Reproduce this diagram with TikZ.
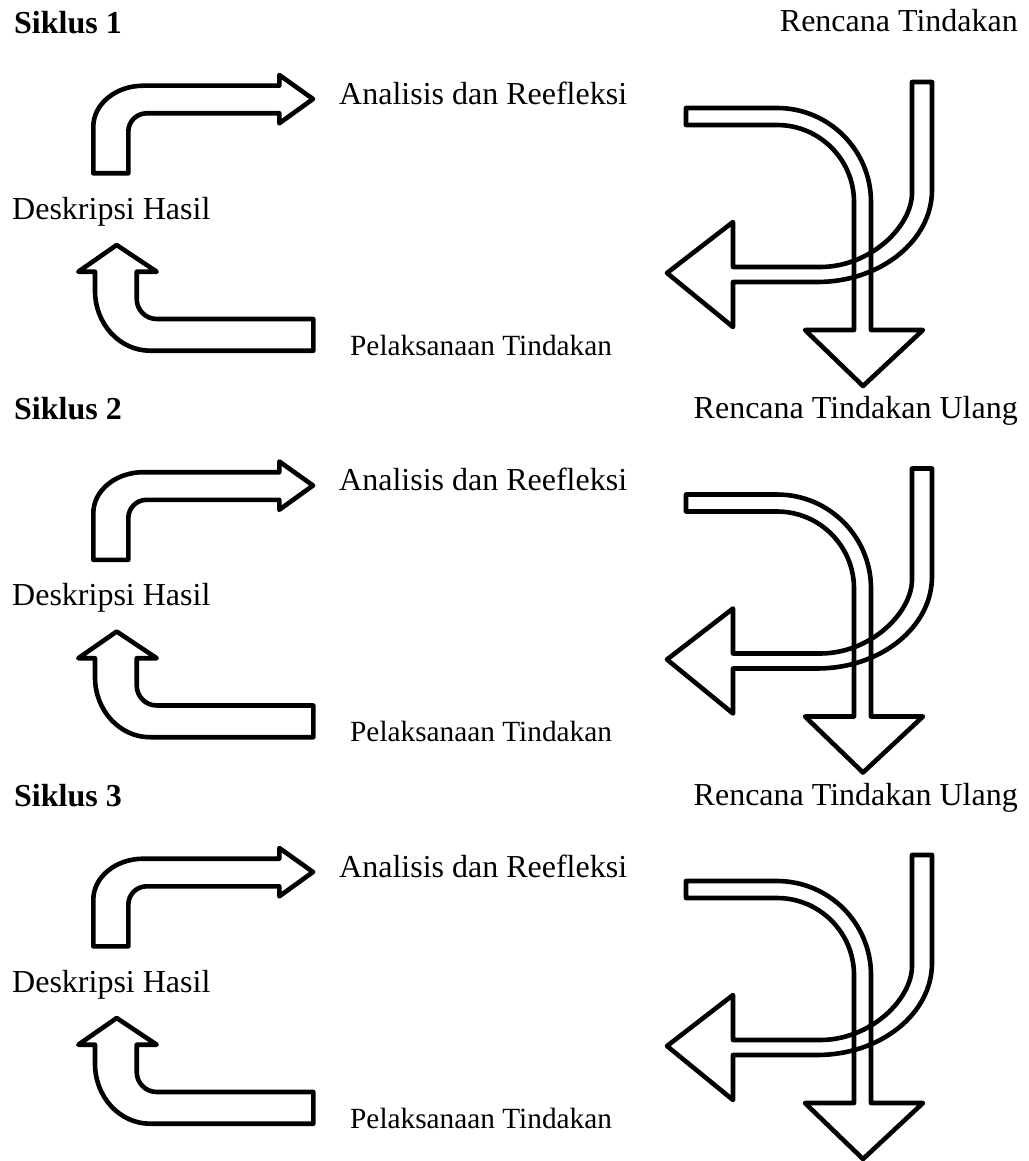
\documentclass[tikz,border=0pt]{standalone}
\usepackage{fontspec}
\setmainfont{Liberation Serif}
\begin{document}
\begin{tikzpicture}[x=1pt,y=-1pt,
  blockarrow/.style={draw=black, line width=4.6pt, line join=round},
  lbl/.style={font=\fontsize{32}{38}\selectfont, inner sep=0pt, anchor=base west},
  lblsmall/.style={font=\fontsize{29.3}{35}\selectfont, inner sep=0pt, anchor=base west},
  ttl/.style={font=\fontsize{32}{38}\selectfont\bfseries, inner sep=0pt, anchor=base west}]
\useasboundingbox (0,0) rectangle (1028,1161);
\foreach \k/\num/\plan in {0/1/{Rencana Tindakan},1/2/{Rencana Tindakan Ulang},2/3/{Rencana Tindakan Ulang}}{
\begin{scope}[shift={(0,386.5*\k)}]
  % texts
  \node[ttl] (siklus\num) at (14,33.3) {Siklus \num};
  \node[lbl, anchor=base east] (rencana\num) at (1018,32) {\plan};
  \node[lbl] (analisis\num) at (339,104.3) {Analisis dan Reefleksi};
  \node[lbl] (deskripsi\num) at (12,219.3) {Deskripsi Hasil};
  \node[lblsmall] (pelaksanaan\num) at (350,355) {Pelaksanaan Tindakan};
  % top-left arrow: up then right
  \draw[blockarrow] (93.3,173.3) -- (93.3,126.7)
    .. controls (93.3,104.1) and (115.7,85.7) .. (143.3,85.7)
    -- (279.3,85.7) -- (279.3,75) -- (313,99) -- (279.3,123.3) -- (279.3,113.3)
    -- (146.7,113.3)
    .. controls (136.5,113.3) and (128.3,121.5) .. (128.3,131.7)
    -- (128.3,173.3) -- cycle;
  % bottom-left arrow: left then up
  \draw[blockarrow] (313.3,319) -- (156.7,319)
    .. controls (145.7,319) and (136.7,310) .. (136.7,299)
    -- (136.7,271.7) -- (156.7,271.7) -- (116.7,245) -- (78.3,271.7) -- (95,271.7)
    -- (95,290.7)
    .. controls (95,323.8) and (119.6,350.7) .. (150,350.7)
    -- (313.3,350.7) -- cycle;
  % right arrow A: right then down
  \draw[blockarrow] (686,108) -- (777,108)
    .. controls (828.9,108) and (871,150.1) .. (871,202)
    -- (871,330) -- (923,330) -- (863,386) -- (805,330) -- (854,330)
    -- (854,202)
    .. controls (854,159.5) and (819.5,125) .. (777,125)
    -- (686,125) -- cycle;
  % right arrow B: down then left
  \draw[blockarrow] (912,82) -- (932,82) -- (932,190)
    .. controls (932,240.8) and (880.5,282) .. (817,282)
    -- (733,282) -- (733,327) -- (667,273) -- (733,222) -- (733,267)
    -- (820,267)
    .. controls (870.8,267) and (912,226.1) .. (912,193)
    -- cycle;
\end{scope}
}
\end{tikzpicture}
\end{document}
